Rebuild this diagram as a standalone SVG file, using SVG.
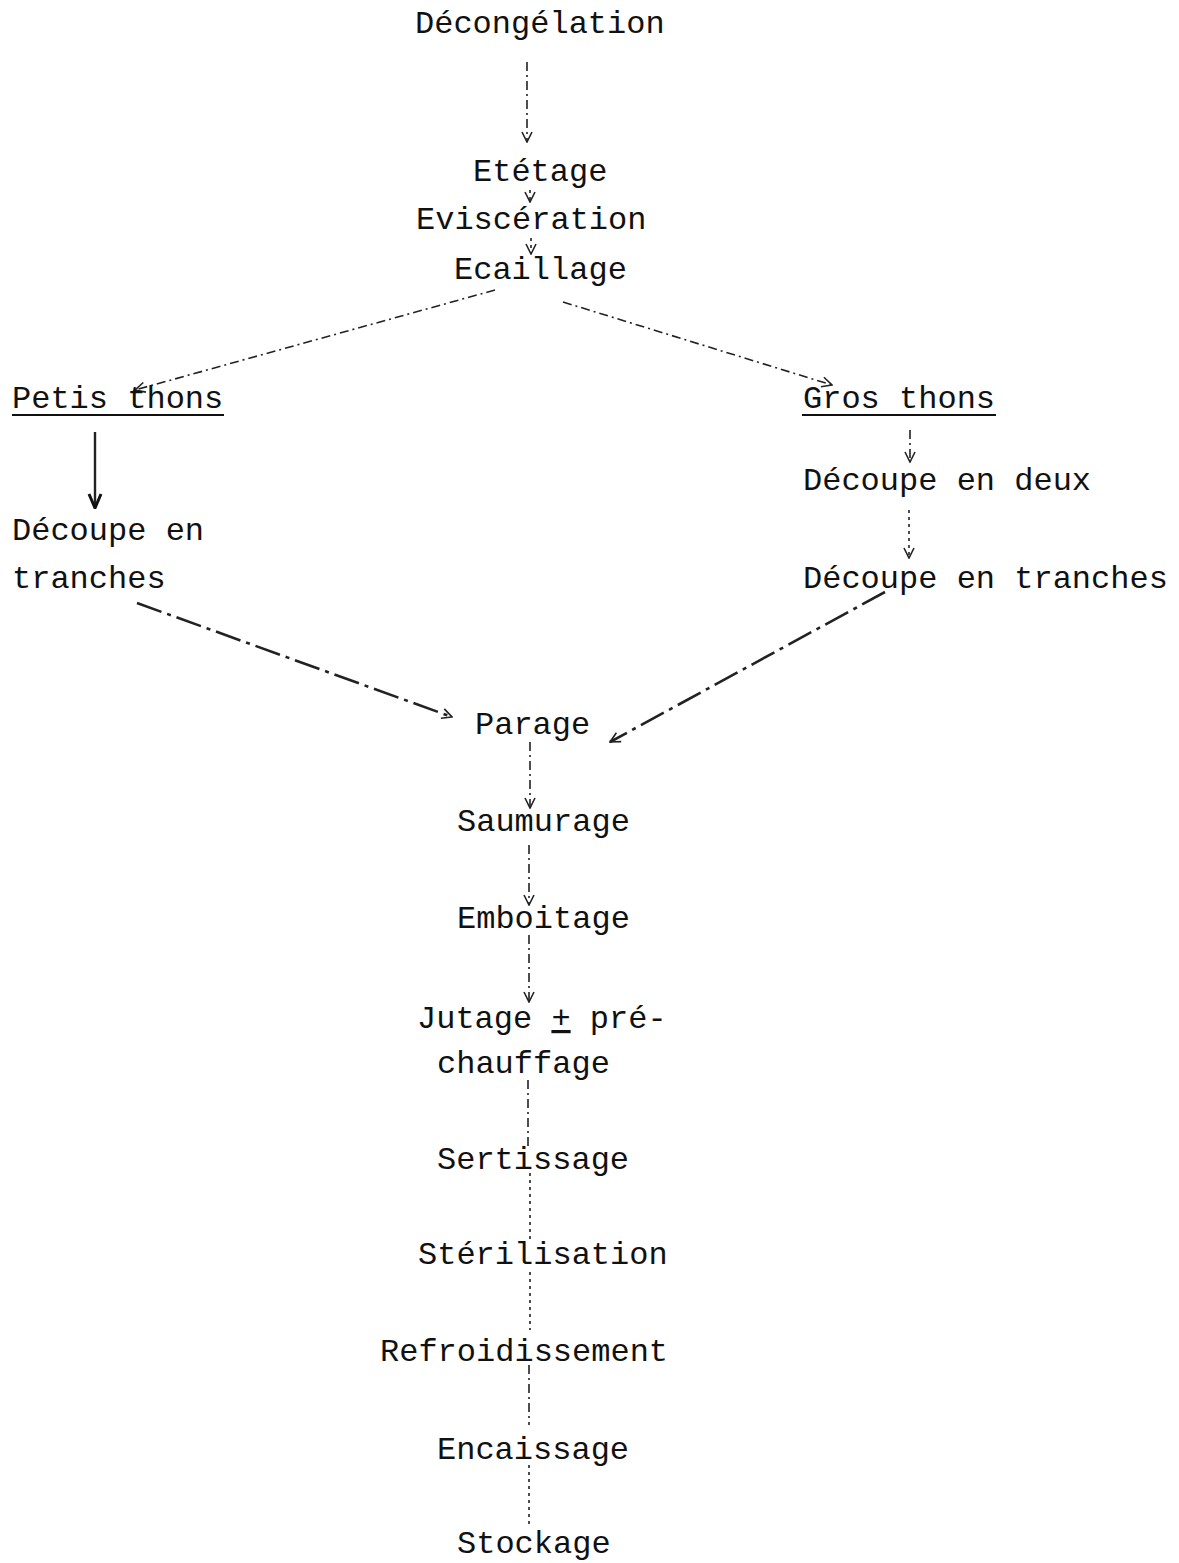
<svg xmlns="http://www.w3.org/2000/svg" width="1179" height="1563" viewBox="0 0 1179 1563">
<style>
text{font-family:"Liberation Mono","DejaVu Sans Mono",monospace;font-size:32px;fill:#111}
.c{fill:none;stroke:#222;stroke-width:1.6}
.d{stroke-dasharray:9 4 2 4}
.f{stroke-dasharray:3 4}
.h{stroke-width:2.6;stroke-dasharray:26 6 4 6}
.s{stroke-width:2.4}
.u{stroke:#111;stroke-width:2.2}
</style>
<defs>
<marker id="v" viewBox="0 0 12 12" refX="11" refY="6" markerWidth="12" markerHeight="12" markerUnits="userSpaceOnUse" orient="auto">
<path d="M1,1 L11,6 L1,11" fill="none" stroke="#222" stroke-width="1.6"/>
</marker>
<marker id="vb" viewBox="0 0 16 16" refX="15" refY="8" markerWidth="16" markerHeight="16" markerUnits="userSpaceOnUse" orient="auto">
<path d="M1,2 L15,8 L1,14" fill="none" stroke="#111" stroke-width="3"/>
</marker>
</defs>
<g id="connectors">
<line class="c d" x1="527" y1="62" x2="527" y2="142" marker-end="url(#v)"/>
<line class="c f" x1="530" y1="190" x2="530" y2="202" marker-end="url(#v)"/>
<line class="c f" x1="531" y1="238" x2="531" y2="254" marker-end="url(#v)"/>
<line class="c d" x1="495" y1="290" x2="135" y2="390" marker-end="url(#v)"/>
<line class="c d" x1="563" y1="302" x2="832" y2="385" marker-end="url(#v)"/>
<line class="c s" x1="95" y1="432" x2="95" y2="508" marker-end="url(#vb)"/>
<line class="c d" x1="910" y1="430" x2="910" y2="462" marker-end="url(#v)"/>
<line class="c f" x1="909" y1="510" x2="909" y2="558" marker-end="url(#v)"/>
<line class="c h" x1="137" y1="603" x2="452" y2="717" marker-end="url(#v)"/>
<line class="c h" x1="885" y1="592" x2="610" y2="742" marker-end="url(#v)"/>
<line class="c d" x1="530" y1="742" x2="530" y2="808" marker-end="url(#v)"/>
<line class="c d" x1="529" y1="845" x2="529" y2="905" marker-end="url(#v)"/>
<line class="c d" x1="529" y1="935" x2="529" y2="1002" marker-end="url(#v)"/>
<line class="c d" x1="528" y1="1080" x2="528" y2="1150"/>
<line class="c f" x1="530" y1="1173" x2="530" y2="1240"/>
<line class="c f" x1="530" y1="1272" x2="530" y2="1330"/>
<line class="c d" x1="529" y1="1365" x2="529" y2="1425"/>
<line class="c f" x1="529" y1="1465" x2="529" y2="1528"/>
</g>
<g id="n-decongelation"><text x="415" y="33">Décongélation</text></g>
<g id="n-etetage"><text x="473" y="181">Etétage</text></g>
<g id="n-evisceration"><text x="416" y="229">Eviscération</text></g>
<g id="n-ecaillage"><text x="454" y="279">Ecaillage</text></g>
<g id="n-petis"><text x="12" y="408">Petis thons</text><line class="u" x1="12" y1="415" x2="224" y2="415"/></g>
<g id="n-gros"><text x="803" y="408">Gros thons</text><line class="u" x1="802" y1="415" x2="996" y2="415"/></g>
<g id="n-decoupe-deux"><text x="803" y="490">Découpe en deux</text></g>
<g id="n-decoupe-tranches-l"><text x="12" y="540">Découpe en</text><text x="12" y="588">tranches</text></g>
<g id="n-decoupe-tranches-r"><text x="803" y="588">Découpe en tranches</text></g>
<g id="n-parage"><text x="475" y="734">Parage</text></g>
<g id="n-saumurage"><text x="457" y="831">Saumurage</text></g>
<g id="n-emboitage"><text x="457" y="928">Emboitage</text></g>
<g id="n-jutage"><text x="417" y="1028">Jutage <tspan text-decoration="underline">+</tspan> pré-</text><text x="437" y="1073">chauffage</text></g>
<g id="n-sertissage"><text x="437" y="1169">Sertissage</text></g>
<g id="n-sterilisation"><text x="418" y="1264">Stérilisation</text></g>
<g id="n-refroidissement"><text x="380" y="1361">Refroidissement</text></g>
<g id="n-encaissage"><text x="437" y="1459">Encaissage</text></g>
<g id="n-stockage"><text x="457" y="1553">Stockage</text></g>
</svg>
